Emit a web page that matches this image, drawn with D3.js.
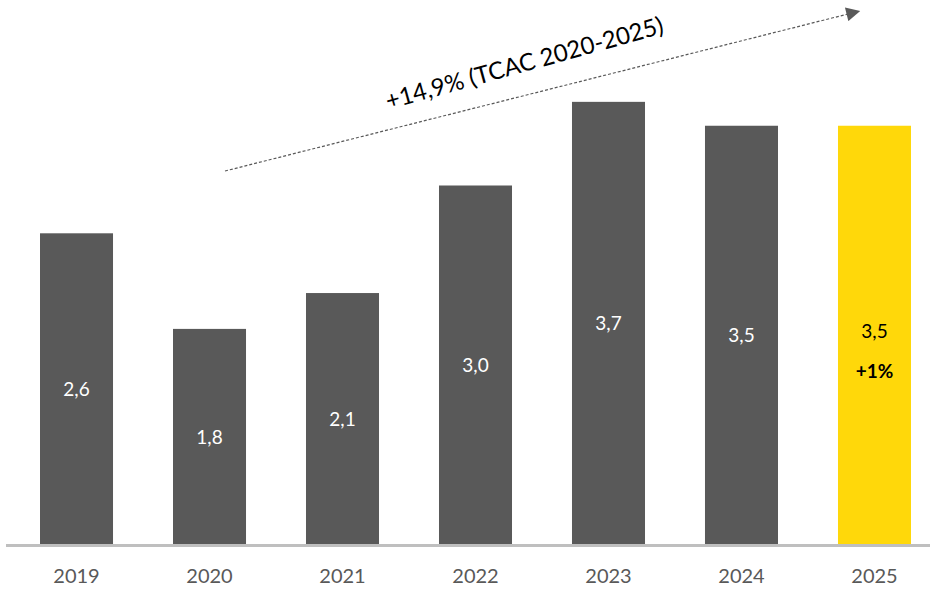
<!DOCTYPE html>
<html>
<head>
<meta charset="utf-8">
<script src="https://cdn.jsdelivr.net/npm/d3@7"></script>
<style>
  html, body { margin: 0; padding: 0; background: #fff; }
  svg { display: block; }
</style>
</head>
<body>
<svg id="chart" width="930" height="589"></svg>
<script>
// Yearly values (labels use a comma as decimal separator)
const years = ["2019", "2020", "2021", "2022", "2023", "2024", "2025"];
const values = [2.6, 1.8, 2.1, 3.0, 3.7, 3.5, 3.5];
const highlightYear = "2025";
const highlightNote = "+1%";
const trendLabel = "+14,9% (TCAC 2020-2025)";

const W = 930, H = 589;
const baseline = 544;
const font = "Lato, 'Open Sans', 'DejaVu Sans', sans-serif";

const svg = d3.select("#chart");

const x = d3.scaleBand()
  .domain(years)
  .range([10, 941])
  .paddingInner(0.451)
  .paddingOuter(0.2256);

const y = d3.scaleLinear()
  .domain([0, 4])
  .range([baseline, baseline - 478]);

const fmt = v => d3.format(".1f")(v).replace(".", ",");

const data = years.map((yr, i) => ({ year: yr, value: values[i] }));

// Bars
svg.append("g").selectAll("rect")
  .data(data)
  .join("rect")
  .attr("x", d => x(d.year))
  .attr("y", d => y(d.value))
  .attr("width", x.bandwidth())
  .attr("height", d => y(0) - y(d.value))
  .attr("fill", d => d.year === highlightYear ? "#FFD80A" : "#595959");

// Value labels, centred in each bar
svg.append("g").selectAll("text")
  .data(data)
  .join("text")
  .attr("x", d => x(d.year) + x.bandwidth() / 2)
  .attr("y", d => (y(d.value) + y(0)) / 2 - (d.year === highlightYear ? 4 : 0))
  .attr("text-anchor", "middle")
  .attr("dominant-baseline", "central")
  .attr("font-family", font)
  .attr("font-size", 19)
  .attr("fill", d => d.year === highlightYear ? "#000" : "#fff")
  .text(d => fmt(d.value));

// Growth note on the highlighted bar
const hl = data.find(d => d.year === highlightYear);
svg.append("text")
  .attr("x", x(hl.year) + x.bandwidth() / 2)
  .attr("y", (y(hl.value) + y(0)) / 2 + 36)
  .attr("text-anchor", "middle")
  .attr("dominant-baseline", "central")
  .attr("font-family", font)
  .attr("font-size", 19)
  .attr("font-weight", "bold")
  .attr("fill", "#000")
  .text(highlightNote);

// X axis
const xAxis = svg.append("g")
  .attr("transform", `translate(0,${baseline + 1})`)
  .call(d3.axisBottom(x).tickSize(0).tickPadding(24));
xAxis.select(".domain").remove();
xAxis.selectAll("text")
  .attr("font-family", font)
  .attr("font-size", 20)
  .attr("fill", "#595959");
svg.append("line")
  .attr("x1", 6).attr("x2", W)
  .attr("y1", baseline + 1.5).attr("y2", baseline + 1.5)
  .attr("stroke", "#bfbfbf")
  .attr("stroke-width", 3);

// Trend arrow with CAGR annotation
const defs = svg.append("defs");
defs.append("marker")
  .attr("id", "arrowHead")
  .attr("viewBox", "0 0 10 10")
  .attr("refX", 1).attr("refY", 5)
  .attr("markerWidth", 16).attr("markerHeight", 14)
  .attr("markerUnits", "userSpaceOnUse")
  .attr("orient", "auto")
  .append("path")
  .attr("d", "M0,0 L10,5 L0,10 Z")
  .attr("fill", "#595959");

const a0 = [225, 171], a1 = [848, 14];
svg.append("line")
  .attr("x1", a0[0]).attr("y1", a0[1])
  .attr("x2", a1[0]).attr("y2", a1[1])
  .attr("stroke", "#595959")
  .attr("stroke-width", 1.2)
  .attr("stroke-dasharray", "3,2")
  .attr("marker-end", "url(#arrowHead)");

svg.append("text")
  .attr("transform", "translate(524,62) rotate(-15.5)")
  .attr("text-anchor", "middle")
  .attr("dominant-baseline", "central")
  .attr("font-family", font)
  .attr("font-size", 24)
  .attr("fill", "#000")
  .text(trendLabel);
</script>
</body>
</html>
